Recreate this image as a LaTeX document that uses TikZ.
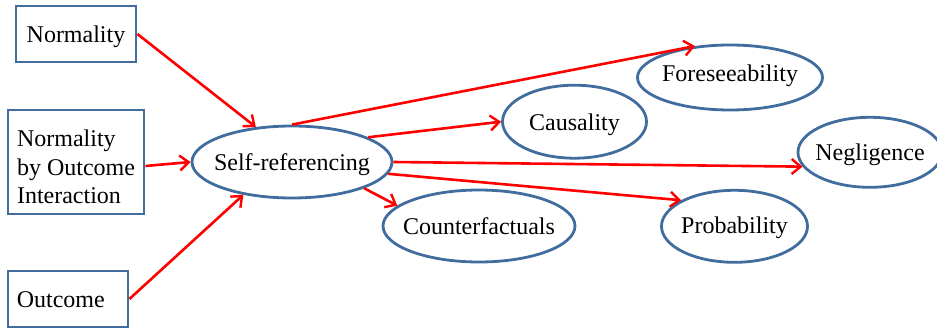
\documentclass[tikz,border=0pt]{standalone}
\usepackage{fontspec}
\setmainfont{Liberation Serif}
\usetikzlibrary{shapes.geometric,arrows.meta}

\definecolor{boxblue}{RGB}{65,108,158}
\definecolor{linkred}{RGB}{255,0,0}

\tikzset{
  txt/.style={inner sep=0pt, text height=17pt, text depth=0pt},
  factor/.style={draw=boxblue, line width=2.8pt, rectangle, inner sep=0pt},
  concept/.style={draw=boxblue, line width=2.8pt, ellipse, inner sep=0pt},
  link/.style={draw=linkred, line width=2.6pt,
    -{Straight Barb[length=9pt,width=15pt,line width=2.4pt]}},
}

\begin{document}
\begin{tikzpicture}[x=1pt,y=-1pt,font=\fontsize{24}{28.3}\selectfont]
\useasboundingbox (0,0) rectangle (937,329);

% input factors
\node[factor, minimum width=120pt, minimum height=56pt,
      label={[txt]center:Normality}] (norm) at (76,34) {};
\node[factor, minimum width=136pt, minimum height=104pt,
      label={[inner sep=0pt, align=left, yshift=-5pt]center:Normality\\by Outcome\\Interaction}] (inter) at (76,162) {};
\node[factor, minimum width=120pt, minimum height=56pt,
      label={[txt, anchor=west, xshift=10pt]west:Outcome}] (outc) at (68,299) {};

% central mediator
\node[concept, minimum width=200pt, minimum height=72pt,
      label={[txt]center:Self-referencing}] (self) at (292,162) {};

% judgements
\node[concept, minimum width=185pt, minimum height=65pt,
      label={[txt, yshift=4.5pt]center:Foreseeability}] (fore) at (730,77.5) {};
\node[concept, minimum width=144pt, minimum height=73pt,
      label={[txt]center:Causality}] (caus) at (574.5,121.7) {};
\node[concept, minimum width=144pt, minimum height=70pt,
      label={[txt]center:Negligence}] (negl) at (870,152.3) {};
\node[concept, minimum width=192pt, minimum height=72pt,
      label={[txt]center:Counterfactuals}] (cf) at (479,226) {};
\node[concept, minimum width=146pt, minimum height=72pt,
      label={[txt, yshift=1.5pt]center:Probability}] (prob) at (734.5,226.3) {};

% paths into the mediator
\draw[link] (norm.east) -- (self.136);
\draw[link] ([yshift=-4pt]inter.east) -- (self.west);
\draw[link] (outc.east) -- (self.214);

% paths out of the mediator
\draw[link] (self.north) -- (fore.138);
\draw[link] (self.18) -- (caus.west);
\draw[link] (self.east) -- (negl.192);
\draw[link] (self.353) -- (prob.154);
\draw[link] (self.340) -- (cf.166);
\end{tikzpicture}
\end{document}
